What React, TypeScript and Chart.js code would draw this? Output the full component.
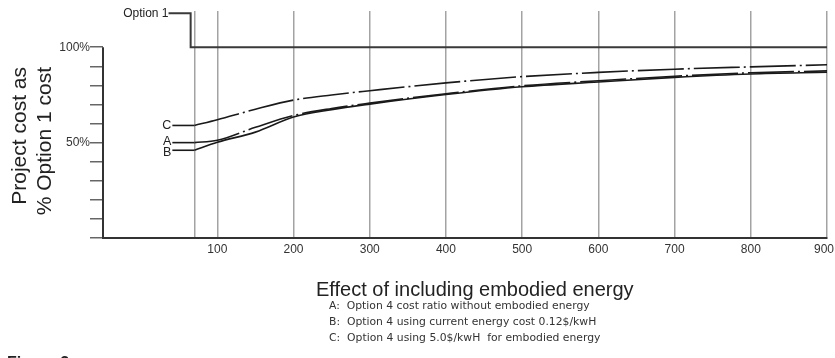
import React, { useEffect, useRef } from "react";
import { Chart, registerables } from "chart.js";

Chart.register(...registerables);

// ---- data ----
const xValues = [70, 100, 150, 200, 250, 300, 400, 500, 600, 700, 800, 900];
const seriesA = [50, 51.2, 58, 64.2, 67.9, 70.7, 75.6, 79.8, 82.4, 84.8, 86.6, 87.6];
const seriesB = [46, 50.2, 55.5, 63.4, 67.3, 70.2, 75.2, 79.3, 81.8, 84.2, 86, 86.9];
const seriesC = [59, 62, 67.5, 72.3, 75, 77.2, 81.3, 84.6, 86.8, 88.5, 89.7, 90.8];
const option1X = [36, 65, 65, 900];
const option1Y = [117.8, 117.8, 100, 100];
const leaderX = [41, 70];
const curveLetters = ["A", "B", "C"];
const option1Label = "Option 1";

const xTickValues = [70, 100, 200, 300, 400, 500, 600, 700, 800, 900];
const xTickLabels = ["", "100", "200", "300", "400", "500", "600", "700", "800", "900"];
const yTickValues = [0, 10, 20, 30, 40, 50, 60, 70, 80, 90, 100];
const yTickLabels = ["", "", "", "", "", "50%", "", "", "", "", "100%"];

const yTitleLines = ["Project cost as", "% Option 1 cost"];
const xTitle = "Effect of including embodied energy";
const notes = [
  "A:  Option 4 cost ratio without embodied energy",
  "B:  Option 4 using current energy cost 0.12$/kwH",
  "C:  Option 4 using 5.0$/kwH  for embodied energy",
];
const figureLabel = "Figure 3";

const FONT = "'Liberation Sans', Arial, Helvetica, sans-serif";
const NOTE_FONT = "'DejaVu Sans', Verdana, sans-serif";
const INK = "#222";
const DASHDOT = [46, 4, 2, 4];
const LETTER_SHIFT = [-1.5, 1.5, 0];

const pts = (xs: number[], ys: number[]) => xs.map((x, i) => ({ x, y: ys[i] }));
const leader = (v: number) => leaderX.map((x) => ({ x, y: v }));

export default function App() {
  const ref = useRef<HTMLCanvasElement | null>(null);

  useEffect(() => {
    if (!ref.current) return;
    const series = [seriesA, seriesB, seriesC];

    const annotate = {
      id: "annotate",
      afterDraw(chart: any) {
        const ctx = chart.ctx;
        const xs = chart.scales.x;
        const ys = chart.scales.y;
        const area = chart.chartArea;
        ctx.save();
        // y axis line from 0% to 100%
        ctx.strokeStyle = "#333";
        ctx.lineWidth = 2;
        ctx.beginPath();
        ctx.moveTo(area.left, ys.getPixelForValue(0));
        ctx.lineTo(area.left, ys.getPixelForValue(100));
        ctx.stroke();

        ctx.fillStyle = INK;
        // curve letters
        ctx.font = `12.5px ${FONT}`;
        ctx.textAlign = "right";
        ctx.textBaseline = "middle";
        series.forEach((s, i) => {
          ctx.fillText(
            curveLetters[i],
            xs.getPixelForValue(leaderX[0]) - 1,
            ys.getPixelForValue(s[0]) + 0.5 + LETTER_SHIFT[i]
          );
        });
        // Option 1 label
        ctx.font = `12px ${FONT}`;
        ctx.fillText(option1Label, xs.getPixelForValue(option1X[0]), ys.getPixelForValue(option1Y[0]));

        // y title
        ctx.font = `21px ${FONT}`;
        ctx.textAlign = "right";
        ctx.textBaseline = "middle";
        const yCols = [20, 45];
        yTitleLines.forEach((t, i) => {
          ctx.save();
          ctx.translate(yCols[i], 67);
          ctx.rotate(-Math.PI / 2);
          ctx.fillText(t, 0, 0);
          ctx.restore();
        });

        // x title and notes
        ctx.textAlign = "left";
        ctx.textBaseline = "alphabetic";
        ctx.font = `20px ${FONT}`;
        ctx.fillText(xTitle, 316, 296);
        ctx.font = `10.8px ${NOTE_FONT}`;
        ctx.fillStyle = "#333";
        notes.forEach((n, i) => ctx.fillText(n, 329, 309 + i * 16));

        ctx.fillStyle = INK;
        ctx.font = `bold 16px ${FONT}`;
        ctx.textBaseline = "top";
        ctx.fillText(figureLabel, 7, 356);
        ctx.restore();
      },
    };

    const curve = (data: number[], dashed: boolean) => ({
      data: pts(xValues, data),
      borderColor: "#1a1a1a",
      borderWidth: 1.6,
      borderDash: dashed ? DASHDOT : [],
      pointRadius: 0,
      cubicInterpolationMode: "monotone" as const,
      fill: false,
    });
    const lead = (v: number) => ({
      data: leader(v),
      borderColor: "#1a1a1a",
      borderWidth: 1.6,
      pointRadius: 0,
      fill: false,
    });

    const chart = new Chart(ref.current, {
      type: "line",
      data: {
        datasets: [
          lead(seriesA[0]),
          curve(seriesA, true),
          lead(seriesB[0]),
          curve(seriesB, false),
          lead(seriesC[0]),
          curve(seriesC, true),
          {
            data: pts(option1X, option1Y),
            borderColor: "#3a3a3a",
            borderWidth: 2,
            pointRadius: 0,
            fill: false,
          },
        ],
      },
      options: {
        animation: false,
        responsive: false,
        devicePixelRatio: 1,
        layout: { padding: { left: 0, top: 11, right: 8, bottom: 0 } },
        plugins: { legend: { display: false }, tooltip: { enabled: false } },
        scales: {
          x: {
            type: "linear",
            min: -50,
            max: 900,
            afterBuildTicks: (s: any) => {
              s.ticks = xTickValues.map((v) => ({ value: v }));
            },
            afterFit: (s: any) => {
              s.height = 120;
              s.paddingLeft = 0;
              s.paddingRight = 0;
            },
            ticks: {
              autoSkip: false,
              maxRotation: 0,
              padding: 4,
              color: "#333",
              font: { family: FONT, size: 12 },
              callback: (v: any) => {
                const i = xTickValues.indexOf(Number(v));
                if (i < 0) return "";
                // keep the last label inside the canvas edge
                return i === xTickValues.length - 1 ? xTickLabels[i] + "\u2002" : xTickLabels[i];
              },
            },
            grid: { color: "#a3a3a3", lineWidth: 1.5, drawTicks: false },
            border: { display: true, color: "#333", width: 2 },
          },
          y: {
            type: "linear",
            min: 0,
            max: 119,
            afterBuildTicks: (s: any) => {
              s.ticks = yTickValues.map((v) => ({ value: v }));
            },
            afterFit: (s: any) => {
              s.width = 103;
              s.paddingTop = 0;
              s.paddingBottom = 0;
            },
            ticks: {
              autoSkip: false,
              padding: 0,
              color: "#333",
              font: { family: FONT, size: 12 },
              callback: (v: any) => {
                const i = yTickValues.indexOf(Number(v));
                return i >= 0 ? yTickLabels[i] : "";
              },
            },
            grid: { drawOnChartArea: false, drawTicks: true, tickLength: 13, color: "#666", lineWidth: 1.5 },
            border: { display: false },
          },
        },
      },
      plugins: [annotate],
    });
    return () => chart.destroy();
  }, []);

  return (
    <div style={{ position: "fixed", left: 0, top: 0, width: 835, height: 358, background: "#fff" }}>
      <canvas ref={ref} width={835} height={358} style={{ width: 835, height: 358, display: "block" }} />
    </div>
  );
}
